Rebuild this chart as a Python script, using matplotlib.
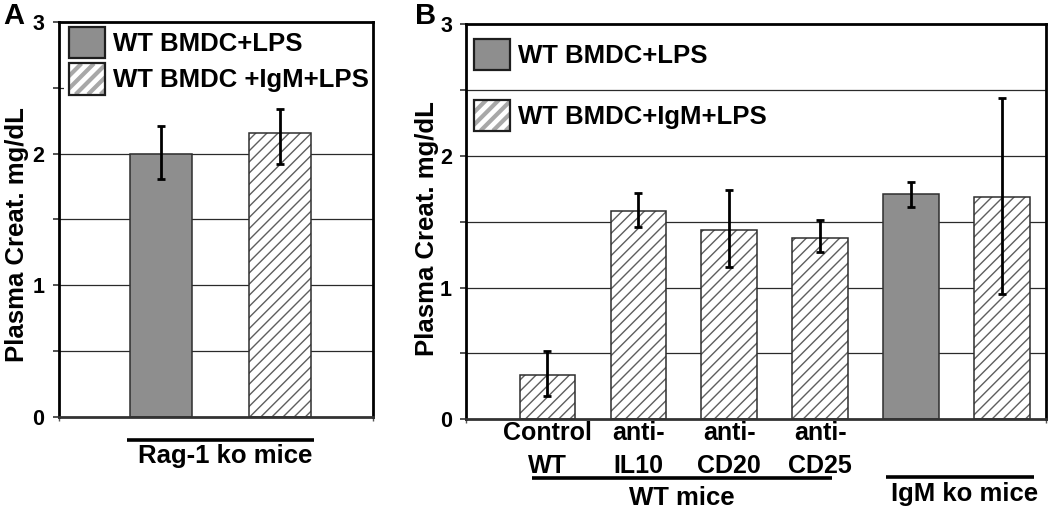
import matplotlib
matplotlib.use("Agg")
import matplotlib.pyplot as plt
import matplotlib.transforms as mtransforms
from matplotlib.patches import Patch, Rectangle
from matplotlib.lines import Line2D
from matplotlib.legend_handler import HandlerBase

plt.rcParams['font.family'] = ['Liberation Sans', 'DejaVu Sans']
plt.rcParams['font.weight'] = 'bold'
plt.rcParams['hatch.linewidth'] = 1.0

# ---------------- data ----------------
series_labels_a = ["WT BMDC+LPS", "WT BMDC +IgM+LPS"]
series_labels_b = ["WT BMDC+LPS", "WT BMDC+IgM+LPS"]

a_values = [2.00, 2.16]
a_err_low = [0.19, 0.24]
a_err_high = [0.21, 0.18]
a_series = [0, 1]
a_group_label = "Rag-1 ko mice"

b_categories = ["Control\nWT", "anti-\nIL10", "anti-\nCD20", "anti-\nCD25", "", ""]
b_values = [0.34, 1.58, 1.44, 1.38, 1.71, 1.69]
b_err_low = [0.16, 0.12, 0.28, 0.11, 0.10, 0.74]
b_err_high = [0.18, 0.14, 0.30, 0.13, 0.09, 0.75]
b_series = [1, 1, 1, 1, 0, 1]
b_group_labels = ["WT mice", "IgM ko mice"]

y_major = [0, 1, 2, 3]
y_minor = [0.5, 1.5, 2.5]

# ---------------- style ----------------
GREY = '#8e8e8e'
EDGE = '#2e2e2e'
BAR_HATCH = '#5e5e5e'
LEG_HATCH = '#a8a8a8'
FS_TICK = 15.5
FS_TEXT = 18.5
FS_CAT = 18
FS_LETTER = 21

fig = plt.figure(figsize=(10.5, 5.08), dpi=100)
axA = fig.add_axes([59 / 1050, 1 - 416.7 / 508, 314.3 / 1050, 394.7 / 508])
axB = fig.add_axes([466 / 1050, 1 - 419.3 / 508, 580 / 1050, 395 / 508])


class StripedHandler(HandlerBase):
    """Legend key: white box with coarse grey diagonal stripes and a dark frame."""

    def create_artists(self, legend, orig_handle, xdescent, ydescent,
                       width, height, fontsize, trans):
        x0, y0 = -xdescent, -ydescent
        bg = Rectangle((x0, y0), width, height, facecolor='white',
                       edgecolor='none', transform=trans)
        arts = [bg]
        step = 9.0
        k = x0 - height
        while k < x0 + width + step:
            ln = Line2D([k, k + height], [y0, y0 + height], color=LEG_HATCH,
                        linewidth=3.0, transform=trans, solid_capstyle='butt')
            ln.set_clip_path(bg)
            arts.append(ln)
            k += step
        fr = Rectangle((x0, y0), width, height, facecolor='none',
                       edgecolor='#1e1e1e', linewidth=1.6, transform=trans)
        arts.append(fr)
        return arts


def draw_bars(ax, values, elo, ehi, series, width):
    x = list(range(len(values)))
    for s in (0, 1):
        xs = [xi for xi, si in zip(x, series) if si == s]
        vs = [v for v, si in zip(values, series) if si == s]
        if not xs:
            continue
        if s == 0:
            ax.bar(xs, vs, width, color=GREY, edgecolor=EDGE, linewidth=1.1, zorder=3)
        else:
            ax.bar(xs, vs, width, color='white', edgecolor=BAR_HATCH,
                   linewidth=0, hatch='///', zorder=3)
            ax.bar(xs, vs, width, fill=False, edgecolor=EDGE, linewidth=1.1, zorder=3.1)
    ax.errorbar(x, values, yerr=[elo, ehi], fmt='none', ecolor='black',
                elinewidth=2.0, capsize=3.0, capthick=2.0, zorder=4)


def style_axis(ax, xlim, ylabel_xy, tickpad):
    ax.set_xlim(*xlim)
    ax.set_ylim(0, 3)
    ax.set_yticks(y_major)
    ax.set_yticks(y_minor, minor=True)
    ax.set_yticklabels([str(v) for v in y_major], fontsize=FS_TICK, fontweight='bold')
    ax.tick_params(axis='y', which='both', direction='out', length=4, width=1.2,
                   pad=tickpad, color='#333333')
    for v in y_major[1:-1] + y_minor:
        ax.axhline(v, color='#2a2a2a', linewidth=0.9, zorder=1)
    ax.set_xticks(xlim, minor=True)
    ax.tick_params(axis='x', which='minor', direction='out', length=3, width=1.0,
                   color='#555555')
    for name, sp in ax.spines.items():
        sp.set_linewidth(2.0)
        sp.set_color('black')
        sp.set_zorder(6)
    ax.spines['bottom'].set_color('#333333')
    ax.set_ylabel("Plasma Creat. mg/dL", fontsize=FS_TEXT, fontweight='bold')
    ax.yaxis.set_label_coords(*ylabel_xy)


def legend(ax, labels, anchor, spacing, frame):
    h0 = Patch(facecolor=GREY, edgecolor='#1e1e1e', linewidth=1.6)
    h1 = Patch(facecolor='white', edgecolor='#1e1e1e', linewidth=1.6)
    leg = ax.legend([h0, h1], labels, handler_map={h1: StripedHandler()},
                    loc='upper left', bbox_to_anchor=anchor, borderaxespad=0,
                    borderpad=0.2 if frame else 0, frameon=frame, fancybox=False,
                    handlelength=1.42, handleheight=1.48, handletextpad=0.3,
                    labelspacing=spacing, prop={'size': FS_TEXT, 'weight': 'bold'})
    if frame:
        leg.get_frame().set_edgecolor('none')
        leg.get_frame().set_facecolor('white')
        leg.get_frame().set_alpha(1)
    leg.set_zorder(5)
    return leg


# ---------------- panel A ----------------
draw_bars(axA, a_values, a_err_low, a_err_high, a_series, 0.516)
style_axis(axA, (-0.854, 1.783), (-0.097, 0.4616), 6.5)
axA.set_xticks([0, 1])
axA.set_xticklabels(["", ""])
axA.tick_params(axis='x', which='major', length=0)
legend(axA, series_labels_a, (0.0155, 0.9995), 0.2, True)
trA = mtransforms.blended_transform_factory(axA.transData, axA.transAxes)
axA.plot([-0.286, 1.288], [-0.059, -0.059], color='black', linewidth=2.6,
         transform=trA, clip_on=False, solid_capstyle='butt')
axA.text(0.539, -0.117, a_group_label, transform=trA, ha='center', va='baseline',
         fontsize=FS_TEXT, fontweight='bold')

# ---------------- panel B ----------------
draw_bars(axB, b_values, b_err_low, b_err_high, b_series, 0.61)
style_axis(axB, (-0.896, 5.486), (-0.047, 0.482), 6.0)
axB.set_xticks(range(len(b_categories)))
axB.set_xticklabels(b_categories, fontsize=FS_CAT, fontweight='bold', linespacing=1.5)
axB.tick_params(axis='x', which='major', length=0, pad=1)
legend(axB, series_labels_b, (0.0138, 0.9635), 1.17, False)
trB = mtransforms.blended_transform_factory(axB.transData, axB.transAxes)
axB.plot([-0.173, 3.128], [-0.149, -0.149], color='black', linewidth=2.6,
         transform=trB, clip_on=False, solid_capstyle='butt')
axB.plot([3.722, 5.357], [-0.147, -0.147], color='black', linewidth=2.6,
         transform=trB, clip_on=False, solid_capstyle='butt')
axB.text(1.478, -0.217, b_group_labels[0], transform=trB, ha='center', va='baseline',
         fontsize=FS_TEXT, fontweight='bold')
axB.text(4.587, -0.207, b_group_labels[1], transform=trB, ha='center', va='baseline',
         fontsize=FS_TEXT, fontweight='bold')

# panel letters
fig.text(3 / 1050, 1 - 24 / 508, "A", fontsize=FS_LETTER, fontweight='bold', va='baseline')
fig.text(415 / 1050, 1 - 24 / 508, "B", fontsize=FS_LETTER, fontweight='bold', va='baseline')

fig.savefig("out.png", dpi=100)
